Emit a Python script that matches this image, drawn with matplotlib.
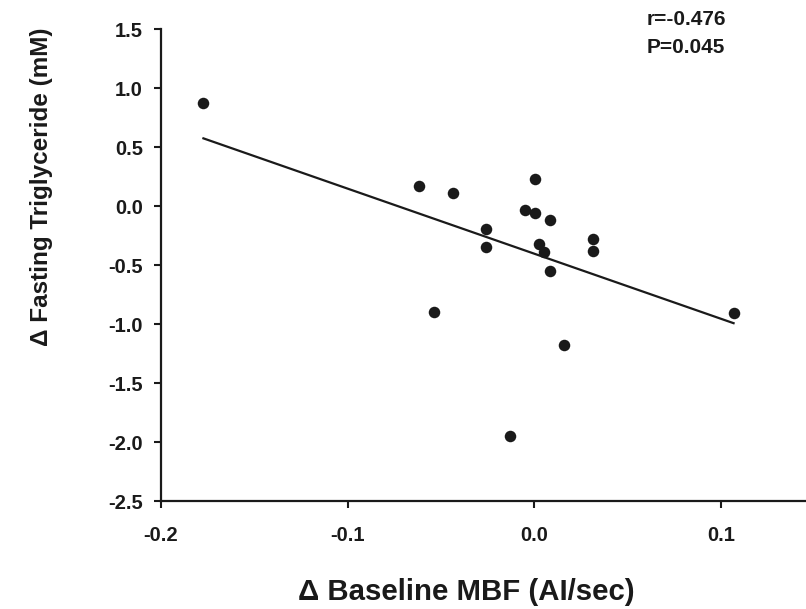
import numpy as np
import matplotlib
matplotlib.use("Agg")
import matplotlib.pyplot as plt

plt.rcParams['font.family'] = ['Liberation Sans', 'DejaVu Sans']

# change in baseline MBF (AI/sec) vs change in fasting triglyceride (mM)
mbf = [-0.1773, -0.0618, -0.0438, 0.0005, -0.0050, 0.0005, 0.0084, -0.0261, -0.0261,
       0.0025, 0.0050, 0.0084, 0.0314, 0.0314, -0.0540, 0.1067, 0.0160, -0.0129]
tg = [0.873, 0.175, 0.113, 0.231, -0.029, -0.054, -0.116, -0.195, -0.345,
      -0.322, -0.385, -0.546, -0.274, -0.376, -0.893, -0.904, -1.175, -1.952]

x_ticks = [-0.2, -0.1, 0.0, 0.1]
y_ticks = [1.5, 1.0, 0.5, 0.0, -0.5, -1.0, -1.5, -2.0, -2.5]
stats_text = "r=-0.476\nP=0.045"

fig = plt.figure(figsize=(8.06, 6.09), dpi=100)
ax = fig.add_axes([0.1998, 0.1773, 0.8002, 0.7746])

x = np.array(mbf)
y = np.array(tg)
ax.plot(x, y, 'o', color='#1a1a1a', markersize=8.3, markeredgewidth=0, clip_on=False)

# least squares fit line over the data range
slope, intercept = np.polyfit(x, y, 1)
xf = np.array([x.min(), x.max()])
ax.plot(xf, slope * xf + intercept, color='#1a1a1a', lw=1.6)

ax.set_xlim(-0.2, 0.1455)
ax.set_ylim(-2.5, 1.5)
ax.set_xticks(x_ticks)
ax.set_xticklabels([f"{v:.1f}" for v in x_ticks])
ax.set_yticks(y_ticks)
ax.set_yticklabels([f"{v:.1f}" for v in y_ticks])

for s in ['top', 'right']:
    ax.spines[s].set_visible(False)
for s in ['left', 'bottom']:
    ax.spines[s].set_linewidth(1.6)
    ax.spines[s].set_color('#1a1a1a')

ax.tick_params(axis='both', direction='out', length=5, width=1.5, color='#1a1a1a',
               labelsize=14.5, labelcolor='#1a1a1a')
ax.tick_params(axis='x', pad=13)
ax.tick_params(axis='y', pad=8)
for lab in ax.get_xticklabels() + ax.get_yticklabels():
    lab.set_fontweight('bold')

ax.set_xlabel("\u0394 Baseline MBF (AI/sec)", fontsize=21.2, fontweight='bold', color='#1a1a1a')
ax.xaxis.set_label_coords(0.474, -0.163)
ax.set_ylabel("\u0394 Fasting Triglyceride (mM)", fontsize=17.5, fontweight='bold', color='#1a1a1a')
ax.yaxis.set_label_coords(-0.168, 0.667)

ax.text(0.753, 1.04, stats_text, transform=ax.transAxes, fontsize=15, fontweight='bold',
        color='#1a1a1a', ha='left', va='top', linespacing=1.6)

fig.savefig("out.png", dpi=100)
